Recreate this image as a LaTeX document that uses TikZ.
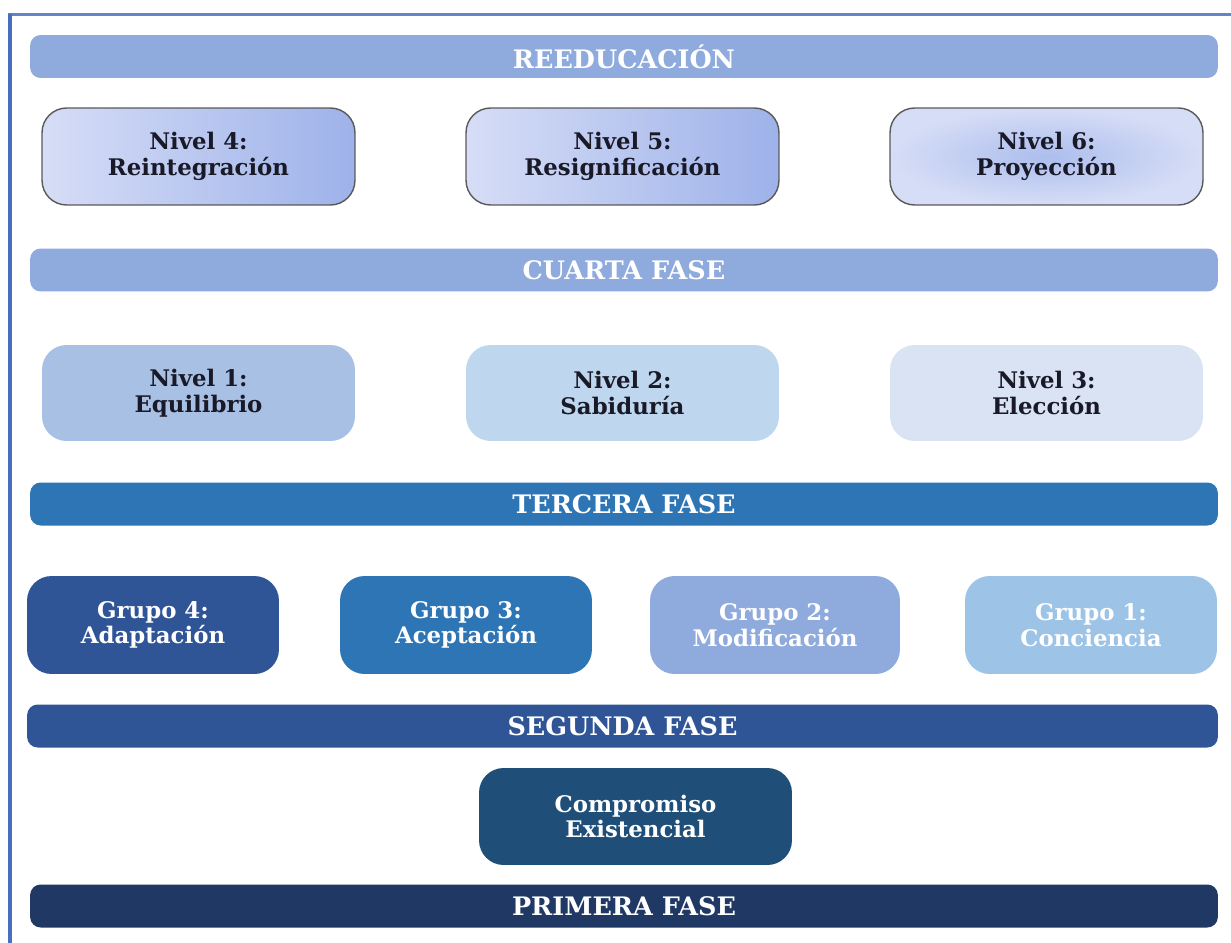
\documentclass[tikz,border=0pt]{standalone}
\usepackage{fontspec}
\setmainfont{DejaVu Serif}
\usepackage{tikz}
\usetikzlibrary{positioning}

\definecolor{frameblue}{RGB}{72,110,190}
\definecolor{barlight}{RGB}{143,170,220}
\definecolor{barmid}{RGB}{46,117,182}
\definecolor{bardark}{RGB}{47,85,151}
\definecolor{barnavy}{RGB}{32,56,100}
\definecolor{nivelone}{RGB}{168,192,228}
\definecolor{niveltwo}{RGB}{190,215,238}
\definecolor{nivelthree}{RGB}{218,227,243}
\definecolor{gruposteel}{RGB}{157,195,230}
\definecolor{compromisoblue}{RGB}{31,78,121}
\definecolor{textdark}{RGB}{25,25,40}
\definecolor{lavlight}{RGB}{214,221,246}
\definecolor{lavdark}{RGB}{158,178,234}

\tikzset{
  bar/.style={rounded corners=6pt, minimum width=23.76cm, minimum height=0.86cm,
    text=white, font=\bfseries\fontsize{14.5}{16}\selectfont, inner sep=0pt},
  nivelbox/.style={rounded corners=14pt, minimum width=6.26cm, minimum height=1.94cm,
    align=center, text=textdark, font=\bfseries\fontsize{13}{14.5}\selectfont},
  grupobox/.style={rounded corners=14pt, minimum width=5.04cm, minimum height=1.96cm,
    align=center, text=white, font=\bfseries\fontsize{13}{14.5}\selectfont}
}

\begin{document}
\begin{tikzpicture}[x=0.02cm, y=-0.02cm]
  \useasboundingbox (0,0) rectangle (1231,943);

  % Draw the frame
  \draw[frameblue!85, line width=2.2pt] (8,14.5) -- (1231,14.5);
  \draw[frameblue, line width=2.2pt] (10,13.5) -- (10,943);

  % Phase bars
  \node[bar, fill=barlight] (reeducacion) at (624,56.5) {REEDUCACIÓN};
  \node[bar, fill=barlight] (cuarta) at (624,270) {CUARTA FASE};
  \node[bar, fill=barmid] (tercera) at (624,504) {TERCERA FASE};
  \node[bar, fill=bardark, minimum width=23.82cm] (segunda) at (622.5,726) {SEGUNDA FASE};
  \node[bar, fill=barnavy] (primera) at (624,906) {PRIMERA FASE};

  % Levels 4 to 6
  \node[nivelbox, draw=black!65, line width=0.8pt, left color=lavlight, right color=lavdark] (nivel4) at (198.5,156.5) {Nivel 4:\\Reintegración};
  \node[nivelbox, draw=black!65, line width=0.8pt, left color=lavlight, right color=lavdark] (nivel5) at (622.5,156.5) {Nivel 5:\\Resignificación};
  \node[nivelbox, draw=black!65, line width=0.8pt, inner color=lavdark!85, outer color=lavlight] (nivel6) at (1046.5,156.5) {Nivel 6:\\Proyección};

  % Levels 1 to 3
  \node[nivelbox, fill=nivelone, minimum height=1.92cm] (nivel1) at (198.5,393) {Nivel 1:\\Equilibrio};
  \node[nivelbox, fill=niveltwo, minimum height=1.92cm] (nivel2) at (622.5,393) {Nivel 2:\\Sabiduría};
  \node[nivelbox, fill=nivelthree, minimum height=1.92cm] (nivel3) at (1046.5,393) {Nivel 3:\\Elección};

  % Groups
  \node[grupobox, fill=bardark] (grupo4) at (153,625) {Grupo 4:\\Adaptación};
  \node[grupobox, fill=barmid] (grupo3) at (466,625) {Grupo 3:\\Aceptación};
  \node[grupobox, fill=barlight, minimum width=5cm] (grupo2) at (775,625) {Grupo 2:\\Modificación};
  \node[grupobox, fill=gruposteel] (grupo1) at (1091,625) {Grupo 1:\\Conciencia};

  % Existential commitment
  \node[grupobox, fill=compromisoblue, minimum width=6.26cm, minimum height=1.94cm] (compromiso) at (635.5,816.5) {Compromiso\\Existencial};
\end{tikzpicture}
\end{document}
